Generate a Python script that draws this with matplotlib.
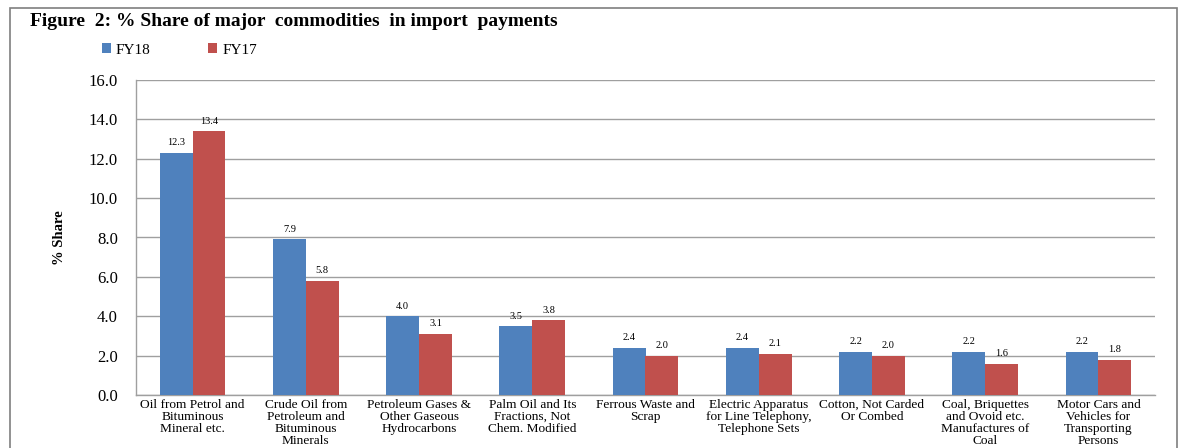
import numpy as np
import matplotlib.pyplot as plt
from matplotlib.patches import Rectangle

plt.rcParams['font.family'] = ['Liberation Serif', 'DejaVu Serif']

# Data
categories = [
    "Oil from Petrol and\nBituminous\nMineral etc.",
    "Crude Oil from\nPetroleum and\nBituminous\nMinerals",
    "Petroleum Gases &\nOther Gaseous\nHydrocarbons",
    "Palm Oil and Its\nFractions, Not\nChem. Modified",
    "Ferrous Waste and\nScrap",
    "Electric Apparatus\nfor Line Telephony,\nTelephone Sets",
    "Cotton, Not Carded\nOr Combed",
    "Coal, Briquettes\nand Ovoid etc.\nManufactures of\nCoal",
    "Motor Cars and\nVehicles for\nTransporting\nPersons",
]
fy18 = [12.3, 7.9, 4.0, 3.5, 2.4, 2.4, 2.2, 2.2, 2.2]
fy17 = [13.4, 5.8, 3.1, 3.8, 2.0, 2.1, 2.0, 1.6, 1.8]

blue = '#4f81bd'
red = '#c0504d'

fig = plt.figure(figsize=(11.87, 4.48), dpi=100)
ax = fig.add_axes([136 / 1187, 1 - 395 / 448, (1155 - 136) / 1187, (395 - 80) / 448])

# outer frame around the figure
fig.patches.append(Rectangle((10 / 1187, -0.05), 1167 / 1187, 1.05 - 8 / 448,
                             transform=fig.transFigure, fill=False,
                             edgecolor='#7f7f7f', linewidth=1.2))

x = np.arange(len(categories))
w = 0.29
b1 = ax.bar(x - w / 2, fy18, w, color=blue, label='FY18', zorder=3)
b2 = ax.bar(x + w / 2, fy17, w, color=red, label='FY17', zorder=3)

for bars, vals in ((b1, fy18), (b2, fy17)):
    for r, v in zip(bars, vals):
        ax.annotate(f"{v:.1f}", (r.get_x() + r.get_width() / 2, r.get_height()),
                    xytext=(0, 4), textcoords='offset points',
                    ha='center', va='bottom', fontsize=7.5)

ax.set_xlim(-0.5, len(categories) - 0.5)
ax.set_ylim(0, 16)
ax.set_yticks(np.arange(0, 16.1, 2))
ax.set_yticklabels([f"{t:.1f}" for t in np.arange(0, 16.1, 2)], fontsize=12)
ax.set_xticks(x)
ax.set_xticklabels(categories, fontsize=9.6, linespacing=0.98)
ax.tick_params(axis='x', length=0, pad=3)
ax.tick_params(axis='y', length=0, pad=13)
ax.grid(axis='y', color='#9f9f9f', linewidth=1, zorder=0)
for s in ('top', 'right'):
    ax.spines[s].set_visible(False)
for s in ('left', 'bottom'):
    ax.spines[s].set_color('#9f9f9f')
    ax.spines[s].set_linewidth(1)

ax.set_ylabel('% Share', fontsize=10.5, fontweight='bold', labelpad=16)

fig.text(30 / 1187, 1 - 22 / 448, 'Figure  2: % Share of major  commodities  in import  payments',
         fontsize=14, fontweight='bold', va='center')

fig.legend(handles=[b1, b2], labels=['FY18', 'FY17'], loc='center left',
           bbox_to_anchor=(88 / 1187, 1 - 50 / 448), ncol=2, frameon=False,
           fontsize=11, handlelength=0.6, handleheight=0.6, handletextpad=0.3,
           columnspacing=3.8)

fig.savefig('out.png', dpi=100)
